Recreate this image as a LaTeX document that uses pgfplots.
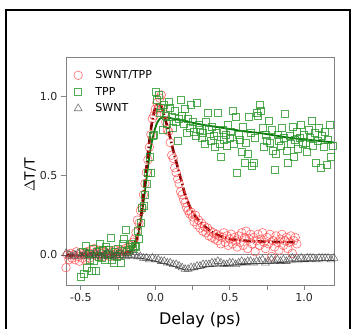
\documentclass[border=0pt]{standalone}
\usepackage{fontspec}
\setmainfont{DejaVu Sans}
\usepackage{pgfplots}
\pgfplotsset{compat=1.18}
\definecolor{ptred}{RGB}{255,70,70}
\definecolor{ptgreen}{RGB}{40,150,40}
\definecolor{fitgreen}{RGB}{10,120,10}
\definecolor{fitred}{RGB}{125,0,0}
\definecolor{trigray}{RGB}{70,70,70}
\definecolor{axgray}{RGB}{130,130,130}
\begin{document}
\begin{tikzpicture}[x=1pt,y=1pt]
\useasboundingbox (0,0) rectangle (351,329);
\begin{scope}
\clip (0,0) rectangle (351,329);
\draw[black,line width=2.3pt] (6,-10) -- (6,319) -- (350,319) -- (350,-10);
\end{scope}
\begin{axis}[
  at={(66pt,44pt)}, anchor=south west,
  width=268pt, height=228pt, scale only axis,
  xmin=-0.6, xmax=1.2, ymin=-0.19, ymax=1.25,
  axis line style={axgray, line width=0.9pt},
  tick align=outside, xtick pos=bottom, ytick pos=left,
  major tick length=5pt, minor tick length=5pt,
  every tick/.style={axgray, line width=0.8pt},
  xtick={-0.5,0,0.5,1}, minor xtick={-0.25,0.25,0.75},
  ytick={0,0.5,1},
  /pgf/number format/assume math mode=true,
  xticklabel style={/pgf/number format/.cd, fixed, fixed zerofill, precision=1},
  yticklabel style={/pgf/number format/.cd, fixed, fixed zerofill, precision=1},
  tick label style={font=\fontsize{11}{13}\selectfont, text=black!85},
  xlabel={Delay (ps)}, ylabel={$\Delta$T/T},
  xlabel style={font=\fontsize{16}{18}\selectfont, at={(axis description cs:0.5,0)}, anchor=north, inner sep=0pt, yshift=-27pt},
  ylabel style={font=\fontsize{14}{16}\selectfont, at={(axis description cs:-0.134,0.482)}, anchor=center, inner sep=0pt},
  legend style={draw=none, fill=none, at={(axis description cs:0.025,0.955)}, anchor=north west,
    font=\fontsize{11}{13}\selectfont, row sep=3pt, inner sep=1pt,
    /tikz/every odd column/.append style={column sep=11pt}},
  legend cell align=left,
  clip=true,
]
% zero line
\addplot[axgray, line width=0.9pt, forget plot] coordinates {(-0.6,0) (1.2,0)};

% SWNT/TPP data
\addplot[only marks, mark=o, mark size=4.3pt, mark options={ptred, line width=0.6pt, draw opacity=0.8}] coordinates {
(-0.60,-0.08) (-0.59,0.00) (-0.58,-0.03) (-0.57,0.01) (-0.56,-0.02) (-0.55,0.00) (-0.54,-0.03) (-0.53,0.02) (-0.52,-0.01) (-0.51,-0.04)
(-0.50,0.01) (-0.49,-0.02) (-0.48,0.00) (-0.47,-0.03) (-0.46,0.02) (-0.45,0.00) (-0.44,-0.02) (-0.43,0.03) (-0.42,0.01) (-0.41,0.04)
(-0.40,0.00) (-0.39,-0.01) (-0.38,0.03) (-0.37,0.01) (-0.36,0.02) (-0.35,-0.01) (-0.34,0.02) (-0.33,0.00) (-0.32,0.03) (-0.31,0.01)
(-0.30,-0.01) (-0.29,0.02) (-0.28,0.00) (-0.27,0.03) (-0.26,0.01) (-0.25,0.02) (-0.24,0.00) (-0.23,0.03) (-0.22,0.01) (-0.21,0.02)
(-0.20,0.04) (-0.19,0.02) (-0.18,0.05) (-0.17,0.03) (-0.16,0.06) (-0.15,0.08) (-0.14,0.10) (-0.13,0.14) (-0.12,0.22) (-0.11,0.20)
(-0.10,0.28) (-0.09,0.30) (-0.08,0.38) (-0.07,0.45) (-0.06,0.52) (-0.05,0.60) (-0.04,0.68) (-0.03,0.76) (-0.02,0.86) (-0.01,0.88)
(0.00,0.92) (0.01,0.96) (0.02,0.93) (0.03,0.99) (0.04,1.01) (0.05,0.92) (0.06,0.89) (0.07,0.84) (0.08,0.79) (0.09,0.78)
(0.10,0.71) (0.11,0.63) (0.12,0.61) (0.13,0.55) (0.14,0.52) (0.15,0.48) (0.16,0.45) (0.17,0.40) (0.18,0.38) (0.19,0.35)
(0.20,0.33) (0.21,0.30) (0.22,0.28) (0.23,0.26) (0.24,0.27) (0.25,0.24) (0.26,0.21) (0.27,0.25) (0.28,0.19) (0.29,0.22)
(0.30,0.17) (0.31,0.20) (0.32,0.15) (0.33,0.18) (0.34,0.14) (0.35,0.17) (0.36,0.12) (0.37,0.15) (0.38,0.11) (0.39,0.14)
(0.40,0.10) (0.41,0.13) (0.42,0.09) (0.43,0.12) (0.44,0.07) (0.45,0.11) (0.46,0.14) (0.47,0.08) (0.48,0.12) (0.49,0.06)
(0.50,0.10) (0.51,0.13) (0.52,0.07) (0.53,0.11) (0.54,0.09) (0.55,0.05) (0.56,0.12) (0.57,0.08) (0.58,0.14) (0.59,0.06)
(0.60,0.11) (0.61,0.15) (0.62,0.04) (0.63,0.10) (0.64,0.13) (0.65,0.07) (0.66,0.11) (0.67,0.02) (0.68,0.09) (0.69,0.13)
(0.70,0.06) (0.71,0.10) (0.72,0.14) (0.73,0.08) (0.74,0.04) (0.75,0.11) (0.76,0.07) (0.77,0.13) (0.78,-0.01) (0.79,0.09)
(0.80,0.05) (0.81,0.12) (0.82,0.08) (0.83,0.03) (0.84,0.10) (0.85,0.13) (0.86,0.06) (0.87,0.09) (0.88,0.11) (0.89,0.04)
(0.90,0.08) (0.91,0.12) (0.92,0.01) (0.93,0.09) (0.94,0.11) (0.95,0.07)
};
\addlegendentry{SWNT/TPP}

% TPP data
\addplot[only marks, mark=square, mark size=3.5pt, mark options={ptgreen, line width=0.6pt, draw opacity=0.8}] coordinates {
(-0.51,-0.20) (-0.50,-0.14) (-0.49,0.02) (-0.48,-0.12) (-0.47,0.06) (-0.46,-0.08) (-0.45,0.01) (-0.44,-0.03) (-0.43,-0.10) (-0.42,0.04)
(-0.41,-0.04) (-0.40,-0.10) (-0.39,0.02) (-0.38,-0.01) (-0.37,0.07) (-0.36,-0.02) (-0.35,0.03) (-0.34,-0.03) (-0.33,0.05) (-0.32,0.00)
(-0.31,0.03) (-0.30,0.11) (-0.29,-0.03) (-0.28,-0.05) (-0.27,0.02) (-0.26,-0.01) (-0.25,0.04) (-0.24,0.01) (-0.23,-0.05) (-0.22,0.07)
(-0.21,0.10) (-0.20,0.16) (-0.19,0.02) (-0.18,0.03) (-0.17,0.05) (-0.16,0.07) (-0.15,0.04) (-0.14,0.06) (-0.13,0.05) (-0.12,0.15)
(-0.11,0.10) (-0.10,0.20) (-0.09,0.30) (-0.08,0.31) (-0.07,0.38) (-0.06,0.45) (-0.05,0.52) (-0.04,0.62) (-0.03,0.52) (-0.02,0.75)
(-0.01,0.76) (0.00,1.03) (0.01,0.98) (0.02,1.01) (0.03,0.90) (0.04,0.93) (0.05,0.79) (0.06,0.95) (0.07,0.88) (0.08,0.83)
(0.09,0.97) (0.10,0.93) (0.11,0.87) (0.12,0.80) (0.13,0.91) (0.14,0.84) (0.15,0.72) (0.16,0.86) (0.17,0.98) (0.18,0.88)
(0.19,0.83) (0.20,0.92) (0.21,0.77) (0.22,0.86) (0.23,0.80) (0.24,0.95) (0.25,0.84) (0.26,0.78) (0.27,0.75) (0.28,0.96)
(0.29,0.82) (0.30,0.79) (0.31,0.74) (0.32,0.77) (0.33,0.70) (0.34,0.84) (0.35,0.90) (0.36,0.79) (0.37,0.72) (0.38,0.81)
(0.39,0.75) (0.40,0.68) (0.41,0.77) (0.42,0.90) (0.43,0.70) (0.44,0.62) (0.45,0.79) (0.46,0.73) (0.47,0.76) (0.48,0.69)
(0.49,0.82) (0.50,0.74) (0.51,0.78) (0.52,0.91) (0.53,0.70) (0.54,0.87) (0.55,0.52) (0.56,0.76) (0.57,0.73) (0.58,0.65)
(0.59,0.81) (0.60,0.58) (0.61,0.71) (0.62,0.64) (0.63,0.87) (0.64,0.77) (0.65,0.56) (0.66,0.58) (0.67,0.74) (0.68,0.90)
(0.69,0.88) (0.70,0.95) (0.71,0.91) (0.72,0.80) (0.73,0.68) (0.74,0.76) (0.75,0.72) (0.76,0.85) (0.77,0.71) (0.78,0.79)
(0.79,0.66) (0.80,0.54) (0.81,0.64) (0.82,0.76) (0.83,0.72) (0.84,0.69) (0.85,0.80) (0.86,0.74) (0.87,0.89) (0.88,0.66)
(0.89,0.58) (0.90,0.75) (0.91,0.70) (0.92,0.81) (0.93,0.62) (0.94,0.73) (0.95,0.78) (0.96,0.67) (0.97,0.74) (0.98,0.82)
(0.99,0.70) (1.00,0.76) (1.01,0.71) (1.02,0.65) (1.03,0.79) (1.04,0.74) (1.05,0.85) (1.06,0.69) (1.07,0.77) (1.08,0.58)
(1.09,0.72) (1.10,0.80) (1.11,0.55) (1.12,0.75) (1.13,0.68) (1.14,0.78) (1.15,0.57) (1.16,0.73) (1.17,0.82) (1.18,0.62)
(1.19,0.69)
};
\addlegendentry{TPP}

% SWNT data
\addplot[only marks, mark=triangle, mark size=4.5pt, mark options={trigray, line width=0.6pt, draw opacity=0.75}] coordinates {
(-0.60,0.01) (-0.58,0.00) (-0.56,-0.01) (-0.54,0.00) (-0.52,0.01) (-0.50,-0.01) (-0.48,0.00) (-0.46,0.01) (-0.44,-0.01) (-0.42,0.00)
(-0.40,0.01) (-0.38,0.00) (-0.36,-0.01) (-0.34,0.00) (-0.32,0.01) (-0.30,0.00) (-0.28,-0.01) (-0.26,0.00) (-0.24,0.01) (-0.22,0.00)
(-0.20,-0.01) (-0.18,0.00) (-0.16,0.00) (-0.14,0.00) (-0.12,-0.01) (-0.10,-0.01) (-0.08,-0.02) (-0.06,-0.02) (-0.04,-0.03) (-0.02,-0.02)
(0.00,-0.03) (0.02,-0.03) (0.04,-0.04) (0.06,-0.04) (0.08,-0.05) (0.10,-0.05) (0.12,-0.06) (0.14,-0.06) (0.16,-0.07) (0.18,-0.08)
(0.20,-0.09) (0.22,-0.09) (0.24,-0.08) (0.26,-0.08) (0.28,-0.07) (0.30,-0.07) (0.32,-0.06) (0.34,-0.06) (0.36,-0.06) (0.38,-0.05)
(0.40,-0.05) (0.42,-0.04) (0.44,-0.05) (0.46,-0.06) (0.48,-0.06) (0.50,-0.05) (0.52,-0.05) (0.54,-0.06) (0.56,-0.05) (0.58,-0.04)
(0.60,-0.05) (0.62,-0.04) (0.64,-0.04) (0.66,-0.05) (0.68,-0.04) (0.70,-0.04) (0.72,-0.03) (0.74,-0.05) (0.76,-0.04) (0.78,-0.03)
(0.80,-0.04) (0.82,-0.03) (0.84,-0.04) (0.86,-0.03) (0.88,-0.04) (0.90,-0.03) (0.92,-0.02) (0.94,-0.03) (0.96,-0.03) (0.98,-0.02)
(1.00,-0.03) (1.02,-0.02) (1.04,-0.02) (1.06,-0.02) (1.08,-0.03) (1.10,-0.02) (1.12,-0.02) (1.14,-0.02) (1.16,-0.02) (1.18,-0.03)
(1.20,-0.02)
};
\addlegendentry{SWNT}

% SWNT fit
\addplot[black!80, line width=0.8pt, forget plot] coordinates {
(-0.6,-0.01) (-0.1,-0.02) (0.0,-0.04) (0.1,-0.065) (0.2,-0.095) (0.25,-0.095) (0.35,-0.075) (0.5,-0.065) (0.7,-0.055) (0.9,-0.045) (1.2,-0.035)
};

% TPP fit
\addplot[fitgreen, line width=1.8pt, forget plot, smooth] coordinates {
(-0.50,0.01) (-0.30,0.01) (-0.20,0.012) (-0.17,0.02) (-0.15,0.04) (-0.13,0.08) (-0.11,0.15) (-0.09,0.26) (-0.07,0.40) (-0.05,0.55)
(-0.03,0.68) (-0.01,0.77) (0.01,0.83) (0.03,0.86) (0.05,0.87) (0.08,0.868) (0.12,0.86) (0.20,0.845) (0.30,0.825) (0.40,0.81)
(0.50,0.795) (0.60,0.78) (0.70,0.77) (0.80,0.755) (0.90,0.74) (1.00,0.73) (1.10,0.72) (1.20,0.71)
};

% SWNT/TPP fit
\addplot[fitred, line width=2.6pt, forget plot, smooth, dash pattern=on 8pt off 2.5pt on 1.5pt off 2.5pt] coordinates {
(-0.60,0.0) (-0.40,0.0) (-0.25,0.005) (-0.18,0.02) (-0.15,0.05) (-0.12,0.12) (-0.10,0.22) (-0.08,0.38) (-0.06,0.55) (-0.04,0.72)
(-0.02,0.85) (0.00,0.93) (0.02,0.955) (0.04,0.94) (0.06,0.88) (0.08,0.81) (0.10,0.74) (0.12,0.66) (0.14,0.59) (0.16,0.52)
(0.18,0.45) (0.20,0.38) (0.22,0.33) (0.25,0.27) (0.28,0.23) (0.30,0.21) (0.35,0.165) (0.40,0.135) (0.45,0.115) (0.50,0.10)
(0.60,0.09) (0.70,0.085) (0.80,0.082) (0.95,0.08)
};
\end{axis}
\end{tikzpicture}
\end{document}
